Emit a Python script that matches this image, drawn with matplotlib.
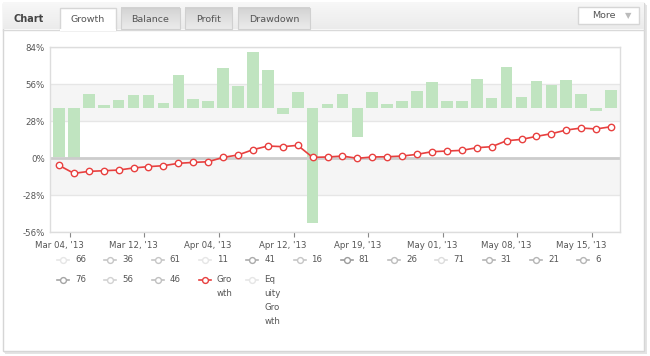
import matplotlib.pyplot as plt
import numpy as np
from matplotlib.colors import LinearSegmentedColormap
from matplotlib.lines import Line2D
from matplotlib.patches import Rectangle

# growth line, % per point
growth = [-5.3, -11.4, -9.9, -9.4, -8.9, -7.3, -6.3, -5.6, -3.8, -3.1,
          -2.6, 0.7, 2.5, 6.5, 9.3, 8.8, 9.8, 0.7, 1.0, 1.7,
          0.0, 1.0, 1.2, 1.7, 3.0, 5.0, 5.5, 6.0, 8.0, 8.8,
          13.3, 14.3, 16.6, 18.6, 21.4, 22.9, 22.2, 23.9]

# green bars, drawn up/down from bar_base
bar_base = 37.8
bar_vals = [-36.6, -38.1, 11.1, 2.5, 6.6, 10.1, 9.8, 4.3, 25.2, 7.1,
            5.3, 30.8, 17.2, 42.9, 29.3, -4.0, 12.1, -86.5, 3.5, 11.1,
            -21.7, 12.4, 3.5, 5.5, 13.1, 19.7, 5.5, 5.3, 21.9, 7.8,
            31.3, 8.3, 20.4, 17.9, 21.7, 11.1, -1.8, 13.6]

date_labels = ["Mar 04, '13", "Mar 12, '13", "Apr 04, '13", "Apr 12, '13",
               "Apr 19, '13", "May 01, '13", "May 08, '13", "May 15, '13"]
label_every = 5
y_ticks = [-56, -28, 0, 28, 56, 84]

tabs = ["Growth", "Balance", "Profit", "Drawdown"]
tab_edges = [(60, 115.7), (121, 180), (185, 232.3), (238.3, 310)]

legend_names = ["66", "36", "61", "11", "41", "16", "81", "26", "71", "31", "21", "6",
                "76", "56", "46", "Gro\nwth", "Eq\nuity\nGro\nwth"]
legend_colors = ["#e6e6e6", "#c6c6c6", "#c6c6c6", "#e6e6e6", "#ababab", "#c6c6c6",
                 "#9c9c9c", "#bdbdbd", "#dcdcdc", "#b5b5b5", "#b5b5b5", "#b5b5b5",
                 "#a5a5a5", "#d2d2d2", "#c0c0c0", "#e8403f", "#e6e6e6"]

W, H = 650, 356
fig = plt.figure(figsize=(W / 100, H / 100), dpi=100)

# background / frame in pixel coords
bg = fig.add_axes([0, 0, 1, 1], zorder=0)
bg.axis("off")

for i, c in enumerate(["#eeeeee", "#e4e4e4"]):
    bg.add_patch(Rectangle((4 + i, 4 + i), 642, 349, facecolor=c, edgecolor="none"))
bg.add_patch(Rectangle((2.5, 2.5), 641.5, 348.5, facecolor="white", edgecolor="#d6d6d6", lw=1))

head_cm = LinearSegmentedColormap.from_list("head", ["#f8f8f8", "#ebebeb"])
tab_cm = LinearSegmentedColormap.from_list("tab", ["#d3d3d3", "#ebebeb"])
grad = np.linspace(0, 1, 50).reshape(-1, 1)
bg.imshow(grad, extent=[3, 643.5, 29.3, 3], aspect="auto", cmap=head_cm, zorder=1)
bg.plot([3, 643.5], [29.5, 29.5], color="#d9d9d9", lw=1, zorder=2)

bg.text(13.5, 18.5, "Chart", fontsize=7, fontweight="bold", color="#444444",
        va="center", ha="left", zorder=3)

for name, (x0, x1) in zip(tabs, tab_edges):
    if name == "Growth":
        bg.add_patch(Rectangle((x0, 7.7), x1 - x0, 22.5, facecolor="white",
                               edgecolor="#d6d6d6", lw=1, zorder=2))
        bg.plot([x0 + 0.5, x1 - 0.5], [29.5, 29.5], color="white", lw=1.5, zorder=3)
    else:
        bg.imshow(grad, extent=[x0, x1, 29.3, 8.2], aspect="auto", cmap=tab_cm, zorder=2)
        bg.add_patch(Rectangle((x0, 8.2), x1 - x0, 21.1, facecolor="none",
                               edgecolor="#d0d0d0", lw=0.8, zorder=3))
    bg.text((x0 + x1) / 2, 19.5, name, fontsize=6.8, color="#555555",
            ha="center", va="center", zorder=4)

bg.add_patch(Rectangle((578.3, 7.3), 61, 17, facecolor="white", edgecolor="#d6d6d6",
                       lw=1, zorder=2))
bg.text(604, 16, "More", fontsize=6.8, color="#555555", ha="center", va="center", zorder=3)
bg.text(628, 16, "\u25bc", fontsize=6, color="#bbbbbb", ha="center", va="center", zorder=3)

# legend (manual, two rows, fixed column width)
for i, (name, col) in enumerate(zip(legend_names, legend_colors)):
    row, c = (0, i) if i < 12 else (1, i - 12)
    xm = 63 + 47.3 * c
    ym = 259.5 + 20 * row
    bg.add_line(Line2D([xm - 6, xm + 6], [ym, ym], color=col, lw=1.2, zorder=3))
    bg.add_line(Line2D([xm], [ym], marker="o", ms=4.2, mfc="white", mec=col,
                       mew=1, zorder=4))
    bg.text(xm + 12, ym - 5, name, fontsize=6.2, color="#555555", ha="left", va="top",
            linespacing=1.75, zorder=4)

bg.set_xlim(0, W)
bg.set_ylim(H, 0)

# main chart
ax = fig.add_axes([50.3 / W, (H - 232.3) / H, (620 - 50.3) / W, 185 / H], zorder=1)
x = np.arange(len(growth))

ax.axhspan(28, 56, color="#f5f5f5", lw=0, zorder=0)
ax.axhspan(-28, 0, color="#f5f5f5", lw=0, zorder=0)
for t in y_ticks:
    ax.axhline(t, color="#e6e6e6", lw=1, zorder=0.5)

ax.bar(x, bar_vals, bottom=bar_base, width=0.78, color="#c0e4c0", zorder=1)
ax.axhline(0, color="#cccccc", lw=2, zorder=1.5)
ax.plot(x, growth, color="#e8403f", lw=1.2, marker="o", ms=4.6, mfc="white",
        mec="#e8403f", mew=1, zorder=3)

ax.set_ylim(-56, 84)
ax.set_xlim(-0.58, 37.6)
ax.set_yticks(y_ticks)
ax.set_yticklabels([f"{t}%" for t in y_ticks])
ax.set_xticks(x[::label_every])
ax.set_xticklabels(date_labels)
ax.set_xticks(x[::label_every] + 0.72, minor=True)
ax.tick_params(axis="both", which="major", length=0, labelsize=6.2, labelcolor="#555555")
ax.tick_params(axis="y", pad=4)
ax.tick_params(axis="x", pad=6.5)
ax.tick_params(axis="x", which="minor", length=3.5, color="#888888", width=0.8)
for s in ax.spines.values():
    s.set_color("#dddddd")
    s.set_linewidth(1)

fig.savefig("out.png", dpi=100)
